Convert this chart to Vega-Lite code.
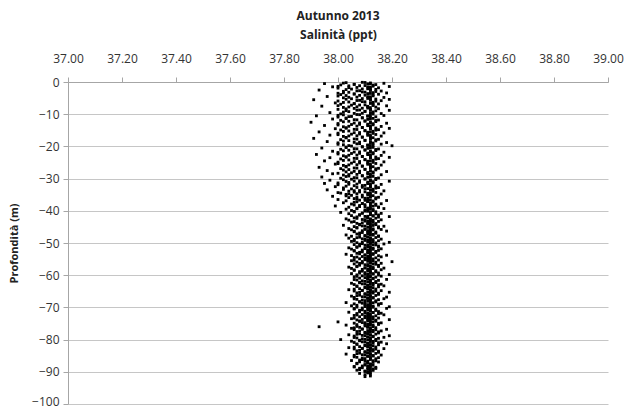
{
"$schema":"https://vega.github.io/schema/vega-lite/v6.json",
"autosize":"none",
"width":540,"height":322,
"padding":{"left":68,"top":82,"right":16,"bottom":5},
"background":"white",
"title":{"text":"Autunno 2013","font":"Open Sans","fontSize":12,"fontWeight":"bold","color":"#222","offset":5,"anchor":"middle"},
"config":{"view":{"stroke":null},"axis":{"labelFont":"Open Sans","titleFont":"Open Sans","labelColor":"#333","titleColor":"#222","domainColor":"#a6a6a6","tickColor":"#a6a6a6","gridColor":"#c6c6c6"}},
"data":{"values":[
{"s":37.95,"d":-0.5},{"s":38.01,"d":-0.9},{"s":38.03,"d":-0.2},{"s":38.06,"d":-0.7},{"s":38.09,"d":-0.1},{"s":38.11,"d":-0.6},{"s":38.12,"d":-0.3},{"s":38.14,"d":-0.8},{"s":38.17,"d":-0.4},
{"s":37.98,"d":-1.5},{"s":38.00,"d":-1.9},{"s":38.04,"d":-1.2},{"s":38.07,"d":-1.7},{"s":38.10,"d":-1.1},{"s":38.12,"d":-1.6},{"s":38.13,"d":-1.3},{"s":38.15,"d":-1.8},{"s":38.19,"d":-1.4},
{"s":37.93,"d":-2.5},{"s":38.02,"d":-2.9},{"s":38.05,"d":-2.2},{"s":38.08,"d":-2.7},{"s":38.11,"d":-2.1},{"s":38.12,"d":-2.6},{"s":38.14,"d":-2.3},{"s":38.16,"d":-2.8},
{"s":38.00,"d":-3.5},{"s":38.01,"d":-3.9},{"s":38.04,"d":-3.2},{"s":38.06,"d":-3.7},{"s":38.09,"d":-3.1},{"s":38.11,"d":-3.6},{"s":38.13,"d":-3.3},{"s":38.15,"d":-3.8},{"s":38.18,"d":-3.4},
{"s":37.96,"d":-4.5},{"s":38.02,"d":-4.9},{"s":38.03,"d":-4.2},{"s":38.07,"d":-4.7},{"s":38.10,"d":-4.1},{"s":38.12,"d":-4.6},{"s":38.13,"d":-4.3},{"s":38.17,"d":-4.8},
{"s":37.91,"d":-5.5},{"s":38.00,"d":-5.9},{"s":38.05,"d":-5.2},{"s":38.08,"d":-5.7},{"s":38.11,"d":-5.1},{"s":38.12,"d":-5.6},{"s":38.14,"d":-5.3},{"s":38.16,"d":-5.8},{"s":38.19,"d":-5.4},
{"s":37.99,"d":-6.5},{"s":38.01,"d":-6.9},{"s":38.04,"d":-6.2},{"s":38.06,"d":-6.7},{"s":38.09,"d":-6.1},{"s":38.12,"d":-6.6},{"s":38.13,"d":-6.3},{"s":38.15,"d":-6.8},
{"s":37.94,"d":-7.5},{"s":38.02,"d":-7.9},{"s":38.05,"d":-7.2},{"s":38.07,"d":-7.7},{"s":38.10,"d":-7.1},{"s":38.11,"d":-7.6},{"s":38.13,"d":-7.3},{"s":38.14,"d":-7.8},{"s":38.18,"d":-7.4},
{"s":38.00,"d":-8.5},{"s":38.03,"d":-8.9},{"s":38.06,"d":-8.2},{"s":38.08,"d":-8.7},{"s":38.11,"d":-8.1},{"s":38.12,"d":-8.6},{"s":38.15,"d":-8.3},{"s":38.19,"d":-8.8},
{"s":37.97,"d":-9.5},{"s":38.01,"d":-9.9},{"s":38.04,"d":-9.2},{"s":38.09,"d":-9.7},{"s":38.10,"d":-9.1},{"s":38.12,"d":-9.6},{"s":38.13,"d":-9.3},{"s":38.16,"d":-9.8},
{"s":37.92,"d":-10.5},{"s":38.00,"d":-10.9},{"s":38.02,"d":-10.2},{"s":38.05,"d":-10.7},{"s":38.07,"d":-10.1},{"s":38.11,"d":-10.6},{"s":38.12,"d":-10.3},{"s":38.14,"d":-10.8},{"s":38.17,"d":-10.4},
{"s":37.98,"d":-11.5},{"s":38.01,"d":-11.9},{"s":38.03,"d":-11.2},{"s":38.06,"d":-11.7},{"s":38.09,"d":-11.1},{"s":38.11,"d":-11.6},{"s":38.13,"d":-11.3},{"s":38.15,"d":-11.8},
{"s":37.90,"d":-12.5},{"s":38.00,"d":-12.9},{"s":38.04,"d":-12.2},{"s":38.08,"d":-12.7},{"s":38.10,"d":-12.1},{"s":38.12,"d":-12.6},{"s":38.14,"d":-12.3},{"s":38.18,"d":-12.8},
{"s":37.95,"d":-13.5},{"s":38.02,"d":-13.9},{"s":38.05,"d":-13.2},{"s":38.07,"d":-13.7},{"s":38.11,"d":-13.1},{"s":38.12,"d":-13.6},{"s":38.13,"d":-13.3},{"s":38.16,"d":-13.8},
{"s":37.99,"d":-14.5},{"s":38.01,"d":-14.9},{"s":38.03,"d":-14.2},{"s":38.06,"d":-14.7},{"s":38.09,"d":-14.1},{"s":38.12,"d":-14.6},{"s":38.14,"d":-14.3},{"s":38.15,"d":-14.8},{"s":38.19,"d":-14.4},
{"s":37.93,"d":-15.5},{"s":38.00,"d":-15.9},{"s":38.04,"d":-15.2},{"s":38.08,"d":-15.7},{"s":38.10,"d":-15.1},{"s":38.11,"d":-15.6},{"s":38.13,"d":-15.3},{"s":38.17,"d":-15.8},
{"s":37.97,"d":-16.5},{"s":38.02,"d":-16.9},{"s":38.05,"d":-16.2},{"s":38.07,"d":-16.7},{"s":38.11,"d":-16.1},{"s":38.12,"d":-16.6},{"s":38.14,"d":-16.3},{"s":38.16,"d":-16.8},
{"s":37.91,"d":-17.5},{"s":38.01,"d":-17.9},{"s":38.03,"d":-17.2},{"s":38.06,"d":-17.7},{"s":38.09,"d":-17.1},{"s":38.12,"d":-17.6},{"s":38.13,"d":-17.3},{"s":38.15,"d":-17.8},
{"s":37.96,"d":-18.5},{"s":38.00,"d":-18.9},{"s":38.04,"d":-18.2},{"s":38.08,"d":-18.7},{"s":38.10,"d":-18.1},{"s":38.12,"d":-18.6},{"s":38.14,"d":-18.3},{"s":38.18,"d":-18.8},
{"s":38.02,"d":-19.5},{"s":38.05,"d":-19.9},{"s":38.07,"d":-19.2},{"s":38.11,"d":-19.7},{"s":38.12,"d":-19.1},{"s":38.13,"d":-19.6},{"s":38.16,"d":-19.3},{"s":38.20,"d":-19.8},
{"s":37.94,"d":-20.5},{"s":38.01,"d":-20.9},{"s":38.03,"d":-20.2},{"s":38.06,"d":-20.7},{"s":38.09,"d":-20.1},{"s":38.11,"d":-20.6},{"s":38.13,"d":-20.3},{"s":38.15,"d":-20.8},
{"s":37.98,"d":-21.5},{"s":38.00,"d":-21.9},{"s":38.04,"d":-21.2},{"s":38.08,"d":-21.7},{"s":38.10,"d":-21.1},{"s":38.12,"d":-21.6},{"s":38.14,"d":-21.3},{"s":38.17,"d":-21.8},
{"s":37.92,"d":-22.5},{"s":38.02,"d":-22.9},{"s":38.05,"d":-22.2},{"s":38.07,"d":-22.7},{"s":38.11,"d":-22.1},{"s":38.12,"d":-22.6},{"s":38.13,"d":-22.3},{"s":38.16,"d":-22.8},
{"s":37.97,"d":-23.5},{"s":38.01,"d":-23.9},{"s":38.03,"d":-23.2},{"s":38.06,"d":-23.7},{"s":38.09,"d":-23.1},{"s":38.12,"d":-23.6},{"s":38.14,"d":-23.3},{"s":38.15,"d":-23.8},{"s":38.19,"d":-23.4},
{"s":37.95,"d":-24.5},{"s":38.00,"d":-24.9},{"s":38.04,"d":-24.2},{"s":38.08,"d":-24.7},{"s":38.10,"d":-24.1},{"s":38.11,"d":-24.6},{"s":38.13,"d":-24.3},{"s":38.17,"d":-24.8},
{"s":37.99,"d":-25.5},{"s":38.02,"d":-25.9},{"s":38.05,"d":-25.2},{"s":38.07,"d":-25.7},{"s":38.11,"d":-25.1},{"s":38.12,"d":-25.6},{"s":38.14,"d":-25.3},{"s":38.16,"d":-25.8},
{"s":37.93,"d":-26.5},{"s":38.01,"d":-26.9},{"s":38.03,"d":-26.2},{"s":38.06,"d":-26.7},{"s":38.09,"d":-26.1},{"s":38.12,"d":-26.6},{"s":38.13,"d":-26.3},{"s":38.15,"d":-26.8},
{"s":37.96,"d":-27.5},{"s":38.03,"d":-27.9},{"s":38.04,"d":-27.2},{"s":38.08,"d":-27.7},{"s":38.10,"d":-27.1},{"s":38.12,"d":-27.6},{"s":38.14,"d":-27.3},{"s":38.18,"d":-27.8},
{"s":37.98,"d":-28.5},{"s":38.02,"d":-28.9},{"s":38.05,"d":-28.2},{"s":38.07,"d":-28.7},{"s":38.11,"d":-28.1},{"s":38.12,"d":-28.6},{"s":38.13,"d":-28.3},{"s":38.16,"d":-28.8},
{"s":37.94,"d":-29.5},{"s":38.01,"d":-29.9},{"s":38.04,"d":-29.2},{"s":38.06,"d":-29.7},{"s":38.09,"d":-29.1},{"s":38.11,"d":-29.6},{"s":38.13,"d":-29.3},{"s":38.15,"d":-29.8},
{"s":37.97,"d":-30.5},{"s":38.03,"d":-30.9},{"s":38.05,"d":-30.2},{"s":38.08,"d":-30.7},{"s":38.10,"d":-30.1},{"s":38.12,"d":-30.6},{"s":38.14,"d":-30.3},{"s":38.19,"d":-30.8},
{"s":37.95,"d":-31.5},{"s":38.00,"d":-31.9},{"s":38.04,"d":-31.2},{"s":38.07,"d":-31.7},{"s":38.11,"d":-31.1},{"s":38.12,"d":-31.6},{"s":38.13,"d":-31.3},{"s":38.16,"d":-31.8},
{"s":37.99,"d":-32.5},{"s":38.02,"d":-32.9},{"s":38.06,"d":-32.2},{"s":38.09,"d":-32.7},{"s":38.10,"d":-32.1},{"s":38.12,"d":-32.6},{"s":38.14,"d":-32.3},{"s":38.15,"d":-32.8},
{"s":37.96,"d":-33.5},{"s":38.04,"d":-33.9},{"s":38.05,"d":-33.2},{"s":38.08,"d":-33.7},{"s":38.11,"d":-33.1},{"s":38.12,"d":-33.6},{"s":38.13,"d":-33.3},{"s":38.17,"d":-33.8},
{"s":38.01,"d":-34.5},{"s":38.03,"d":-34.9},{"s":38.06,"d":-34.2},{"s":38.07,"d":-34.7},{"s":38.10,"d":-34.1},{"s":38.12,"d":-34.6},{"s":38.14,"d":-34.3},{"s":38.16,"d":-34.8},
{"s":37.98,"d":-35.5},{"s":38.04,"d":-35.9},{"s":38.05,"d":-35.2},{"s":38.09,"d":-35.7},{"s":38.11,"d":-35.1},{"s":38.12,"d":-35.6},{"s":38.13,"d":-35.3},{"s":38.15,"d":-35.8},
{"s":38.00,"d":-36.5},{"s":38.03,"d":-36.9},{"s":38.06,"d":-36.2},{"s":38.08,"d":-36.7},{"s":38.10,"d":-36.1},{"s":38.11,"d":-36.6},{"s":38.14,"d":-36.3},{"s":38.18,"d":-36.8},
{"s":38.02,"d":-37.5},{"s":38.05,"d":-37.9},{"s":38.07,"d":-37.2},{"s":38.09,"d":-37.7},{"s":38.11,"d":-37.1},{"s":38.12,"d":-37.6},{"s":38.13,"d":-37.3},{"s":38.16,"d":-37.8},
{"s":37.99,"d":-38.5},{"s":38.04,"d":-38.9},{"s":38.06,"d":-38.2},{"s":38.08,"d":-38.7},{"s":38.10,"d":-38.1},{"s":38.12,"d":-38.6},{"s":38.14,"d":-38.3},{"s":38.15,"d":-38.8},
{"s":38.03,"d":-39.5},{"s":38.05,"d":-39.9},{"s":38.07,"d":-39.2},{"s":38.11,"d":-39.7},{"s":38.12,"d":-39.1},{"s":38.13,"d":-39.6},{"s":38.17,"d":-39.3},
{"s":38.01,"d":-40.5},{"s":38.04,"d":-40.9},{"s":38.06,"d":-40.2},{"s":38.09,"d":-40.7},{"s":38.10,"d":-40.1},{"s":38.12,"d":-40.6},{"s":38.14,"d":-40.3},{"s":38.16,"d":-40.8},
{"s":38.05,"d":-41.5},{"s":38.07,"d":-41.9},{"s":38.08,"d":-41.2},{"s":38.11,"d":-41.7},{"s":38.12,"d":-41.1},{"s":38.13,"d":-41.6},{"s":38.15,"d":-41.3},{"s":38.19,"d":-41.8},
{"s":38.03,"d":-42.5},{"s":38.04,"d":-42.9},{"s":38.06,"d":-42.2},{"s":38.09,"d":-42.7},{"s":38.11,"d":-42.1},{"s":38.12,"d":-42.6},{"s":38.14,"d":-42.3},{"s":38.16,"d":-42.8},
{"s":38.05,"d":-43.5},{"s":38.07,"d":-43.9},{"s":38.10,"d":-43.2},{"s":38.11,"d":-43.7},{"s":38.12,"d":-43.1},{"s":38.13,"d":-43.6},{"s":38.15,"d":-43.3},
{"s":38.02,"d":-44.5},{"s":38.06,"d":-44.9},{"s":38.08,"d":-44.2},{"s":38.09,"d":-44.7},{"s":38.11,"d":-44.1},{"s":38.12,"d":-44.6},{"s":38.14,"d":-44.3},{"s":38.17,"d":-44.8},
{"s":38.04,"d":-45.5},{"s":38.05,"d":-45.9},{"s":38.07,"d":-45.2},{"s":38.10,"d":-45.7},{"s":38.12,"d":-45.1},{"s":38.13,"d":-45.6},{"s":38.15,"d":-45.3},{"s":38.16,"d":-45.8},
{"s":38.06,"d":-46.5},{"s":38.08,"d":-46.9},{"s":38.09,"d":-46.2},{"s":38.11,"d":-46.7},{"s":38.12,"d":-46.1},{"s":38.14,"d":-46.6},{"s":38.18,"d":-46.3},
{"s":38.03,"d":-47.5},{"s":38.05,"d":-47.9},{"s":38.07,"d":-47.2},{"s":38.10,"d":-47.7},{"s":38.11,"d":-47.1},{"s":38.12,"d":-47.6},{"s":38.13,"d":-47.3},{"s":38.15,"d":-47.8},
{"s":38.04,"d":-48.5},{"s":38.06,"d":-48.9},{"s":38.08,"d":-48.2},{"s":38.09,"d":-48.7},{"s":38.11,"d":-48.1},{"s":38.12,"d":-48.6},{"s":38.14,"d":-48.3},{"s":38.16,"d":-48.8},
{"s":38.05,"d":-49.5},{"s":38.07,"d":-49.9},{"s":38.10,"d":-49.2},{"s":38.11,"d":-49.7},{"s":38.12,"d":-49.1},{"s":38.13,"d":-49.6},{"s":38.15,"d":-49.3},{"s":38.19,"d":-49.8},
{"s":38.06,"d":-50.5},{"s":38.08,"d":-50.9},{"s":38.09,"d":-50.2},{"s":38.11,"d":-50.7},{"s":38.12,"d":-50.1},{"s":38.14,"d":-50.6},{"s":38.17,"d":-50.3},
{"s":38.04,"d":-51.5},{"s":38.05,"d":-51.9},{"s":38.07,"d":-51.2},{"s":38.10,"d":-51.7},{"s":38.12,"d":-51.1},{"s":38.13,"d":-51.6},{"s":38.15,"d":-51.3},{"s":38.16,"d":-51.8},
{"s":38.06,"d":-52.5},{"s":38.08,"d":-52.9},{"s":38.09,"d":-52.2},{"s":38.11,"d":-52.7},{"s":38.12,"d":-52.1},{"s":38.14,"d":-52.6},{"s":38.15,"d":-52.3},
{"s":38.03,"d":-53.5},{"s":38.05,"d":-53.9},{"s":38.07,"d":-53.2},{"s":38.10,"d":-53.7},{"s":38.11,"d":-53.1},{"s":38.12,"d":-53.6},{"s":38.13,"d":-53.3},{"s":38.18,"d":-53.8},
{"s":38.06,"d":-54.5},{"s":38.08,"d":-54.9},{"s":38.09,"d":-54.2},{"s":38.11,"d":-54.7},{"s":38.12,"d":-54.1},{"s":38.14,"d":-54.6},{"s":38.16,"d":-54.3},
{"s":38.05,"d":-55.5},{"s":38.07,"d":-55.9},{"s":38.10,"d":-55.2},{"s":38.11,"d":-55.7},{"s":38.12,"d":-55.1},{"s":38.13,"d":-55.6},{"s":38.15,"d":-55.3},{"s":38.20,"d":-55.8},
{"s":38.06,"d":-56.5},{"s":38.08,"d":-56.9},{"s":38.09,"d":-56.2},{"s":38.11,"d":-56.7},{"s":38.12,"d":-56.1},{"s":38.14,"d":-56.6},{"s":38.16,"d":-56.3},
{"s":38.04,"d":-57.5},{"s":38.05,"d":-57.9},{"s":38.07,"d":-57.2},{"s":38.10,"d":-57.7},{"s":38.12,"d":-57.1},{"s":38.13,"d":-57.6},{"s":38.15,"d":-57.3},{"s":38.17,"d":-57.8},
{"s":38.06,"d":-58.5},{"s":38.08,"d":-58.9},{"s":38.09,"d":-58.2},{"s":38.11,"d":-58.7},{"s":38.12,"d":-58.1},{"s":38.14,"d":-58.6},{"s":38.16,"d":-58.3},
{"s":38.05,"d":-59.5},{"s":38.07,"d":-59.9},{"s":38.10,"d":-59.2},{"s":38.11,"d":-59.7},{"s":38.12,"d":-59.1},{"s":38.13,"d":-59.6},{"s":38.15,"d":-59.3},{"s":38.19,"d":-59.8},
{"s":38.06,"d":-60.5},{"s":38.08,"d":-60.9},{"s":38.09,"d":-60.2},{"s":38.11,"d":-60.7},{"s":38.12,"d":-60.1},{"s":38.14,"d":-60.6},{"s":38.16,"d":-60.3},
{"s":38.07,"d":-61.5},{"s":38.10,"d":-61.9},{"s":38.11,"d":-61.2},{"s":38.12,"d":-61.7},{"s":38.13,"d":-61.1},{"s":38.15,"d":-61.6},{"s":38.18,"d":-61.3},
{"s":38.05,"d":-62.5},{"s":38.06,"d":-62.9},{"s":38.08,"d":-62.2},{"s":38.09,"d":-62.7},{"s":38.11,"d":-62.1},{"s":38.12,"d":-62.6},{"s":38.14,"d":-62.3},{"s":38.16,"d":-62.8},
{"s":38.07,"d":-63.5},{"s":38.10,"d":-63.9},{"s":38.11,"d":-63.2},{"s":38.12,"d":-63.7},{"s":38.13,"d":-63.1},{"s":38.15,"d":-63.6},{"s":38.17,"d":-63.3},
{"s":38.04,"d":-64.5},{"s":38.06,"d":-64.9},{"s":38.08,"d":-64.2},{"s":38.09,"d":-64.7},{"s":38.11,"d":-64.1},{"s":38.12,"d":-64.6},{"s":38.14,"d":-64.3},{"s":38.16,"d":-64.8},
{"s":38.07,"d":-65.5},{"s":38.10,"d":-65.9},{"s":38.11,"d":-65.2},{"s":38.12,"d":-65.7},{"s":38.13,"d":-65.1},{"s":38.15,"d":-65.6},{"s":38.19,"d":-65.3},
{"s":38.05,"d":-66.5},{"s":38.06,"d":-66.9},{"s":38.08,"d":-66.2},{"s":38.09,"d":-66.7},{"s":38.11,"d":-66.1},{"s":38.12,"d":-66.6},{"s":38.14,"d":-66.3},{"s":38.18,"d":-66.8},
{"s":38.07,"d":-67.5},{"s":38.10,"d":-67.9},{"s":38.11,"d":-67.2},{"s":38.12,"d":-67.7},{"s":38.13,"d":-67.1},{"s":38.15,"d":-67.6},{"s":38.17,"d":-67.3},
{"s":38.03,"d":-68.5},{"s":38.06,"d":-68.9},{"s":38.08,"d":-68.2},{"s":38.09,"d":-68.7},{"s":38.11,"d":-68.1},{"s":38.12,"d":-68.6},{"s":38.14,"d":-68.3},{"s":38.16,"d":-68.8},
{"s":38.05,"d":-69.5},{"s":38.07,"d":-69.9},{"s":38.10,"d":-69.2},{"s":38.11,"d":-69.7},{"s":38.12,"d":-69.1},{"s":38.13,"d":-69.6},{"s":38.15,"d":-69.3},{"s":38.19,"d":-69.8},
{"s":38.06,"d":-70.5},{"s":38.08,"d":-70.9},{"s":38.09,"d":-70.2},{"s":38.11,"d":-70.7},{"s":38.12,"d":-70.1},{"s":38.14,"d":-70.6},{"s":38.18,"d":-70.3},
{"s":38.04,"d":-71.5},{"s":38.07,"d":-71.9},{"s":38.10,"d":-71.2},{"s":38.11,"d":-71.7},{"s":38.12,"d":-71.1},{"s":38.13,"d":-71.6},{"s":38.15,"d":-71.3},{"s":38.16,"d":-71.8},
{"s":38.06,"d":-72.5},{"s":38.08,"d":-72.9},{"s":38.09,"d":-72.2},{"s":38.11,"d":-72.7},{"s":38.12,"d":-72.1},{"s":38.14,"d":-72.6},{"s":38.17,"d":-72.3},
{"s":38.05,"d":-73.5},{"s":38.07,"d":-73.9},{"s":38.10,"d":-73.2},{"s":38.11,"d":-73.7},{"s":38.12,"d":-73.1},{"s":38.13,"d":-73.6},{"s":38.15,"d":-73.3},{"s":38.19,"d":-73.8},
{"s":38.00,"d":-74.5},{"s":38.06,"d":-74.9},{"s":38.08,"d":-74.2},{"s":38.09,"d":-74.7},{"s":38.11,"d":-74.1},{"s":38.12,"d":-74.6},{"s":38.14,"d":-74.3},{"s":38.16,"d":-74.8},
{"s":38.03,"d":-75.5},{"s":38.07,"d":-75.9},{"s":38.10,"d":-75.2},{"s":38.11,"d":-75.7},{"s":38.12,"d":-75.1},{"s":38.13,"d":-75.6},{"s":38.15,"d":-75.3},
{"s":37.93,"d":-76.0},
{"s":38.05,"d":-76.5},{"s":38.06,"d":-76.9},{"s":38.08,"d":-76.2},{"s":38.09,"d":-76.7},{"s":38.11,"d":-76.1},{"s":38.12,"d":-76.6},{"s":38.14,"d":-76.3},{"s":38.18,"d":-76.8},
{"s":38.07,"d":-77.5},{"s":38.10,"d":-77.9},{"s":38.11,"d":-77.2},{"s":38.12,"d":-77.7},{"s":38.13,"d":-77.1},{"s":38.15,"d":-77.6},{"s":38.16,"d":-77.3},
{"s":38.04,"d":-78.5},{"s":38.06,"d":-78.9},{"s":38.08,"d":-78.2},{"s":38.09,"d":-78.7},{"s":38.11,"d":-78.1},{"s":38.12,"d":-78.6},{"s":38.14,"d":-78.3},{"s":38.19,"d":-78.8},
{"s":38.07,"d":-79.5},{"s":38.10,"d":-79.9},{"s":38.11,"d":-79.2},{"s":38.12,"d":-79.7},{"s":38.13,"d":-79.1},{"s":38.15,"d":-79.6},{"s":38.17,"d":-79.3},
{"s":38.01,"d":-80.0},
{"s":38.05,"d":-80.5},{"s":38.06,"d":-80.9},{"s":38.08,"d":-80.2},{"s":38.09,"d":-80.7},{"s":38.11,"d":-80.1},{"s":38.12,"d":-80.6},{"s":38.14,"d":-80.3},{"s":38.16,"d":-80.8},
{"s":38.07,"d":-81.5},{"s":38.10,"d":-81.9},{"s":38.11,"d":-81.2},{"s":38.12,"d":-81.7},{"s":38.13,"d":-81.1},{"s":38.15,"d":-81.6},{"s":38.18,"d":-81.3},
{"s":38.04,"d":-82.5},{"s":38.06,"d":-82.9},{"s":38.08,"d":-82.2},{"s":38.09,"d":-82.7},{"s":38.11,"d":-82.1},{"s":38.12,"d":-82.6},{"s":38.14,"d":-82.3},{"s":38.17,"d":-82.8},
{"s":38.07,"d":-83.5},{"s":38.10,"d":-83.9},{"s":38.11,"d":-83.2},{"s":38.12,"d":-83.7},{"s":38.13,"d":-83.1},{"s":38.15,"d":-83.6},
{"s":38.03,"d":-84.5},{"s":38.06,"d":-84.9},{"s":38.08,"d":-84.2},{"s":38.09,"d":-84.7},{"s":38.11,"d":-84.1},{"s":38.12,"d":-84.6},{"s":38.14,"d":-84.3},{"s":38.16,"d":-84.8},
{"s":38.07,"d":-85.5},{"s":38.10,"d":-85.9},{"s":38.11,"d":-85.2},{"s":38.12,"d":-85.7},{"s":38.13,"d":-85.1},{"s":38.15,"d":-85.6},
{"s":38.05,"d":-86.5},{"s":38.08,"d":-86.9},{"s":38.09,"d":-86.2},{"s":38.11,"d":-86.7},{"s":38.12,"d":-86.1},{"s":38.14,"d":-86.6},
{"s":38.07,"d":-87.5},{"s":38.10,"d":-87.9},{"s":38.11,"d":-87.2},{"s":38.12,"d":-87.7},{"s":38.13,"d":-87.1},
{"s":38.06,"d":-88.5},{"s":38.08,"d":-88.9},{"s":38.09,"d":-88.2},{"s":38.11,"d":-88.7},{"s":38.12,"d":-88.1},{"s":38.14,"d":-88.6},
{"s":38.07,"d":-89.5},{"s":38.10,"d":-89.9},{"s":38.11,"d":-89.2},{"s":38.12,"d":-89.7},{"s":38.13,"d":-89.1},
{"s":38.08,"d":-90.5},{"s":38.10,"d":-90.9},{"s":38.12,"d":-90.2},
{"s":38.10,"d":-91.5},{"s":38.12,"d":-91.3},
{"s":38.02,"d":-0.35},{"s":38.06,"d":-0.75},{"s":38.10,"d":-0.15},{"s":38.12,"d":-0.55},{"s":38.13,"d":-0.95},
{"s":38.00,"d":-1.35},{"s":38.04,"d":-1.75},{"s":38.08,"d":-1.15},{"s":38.11,"d":-1.55},{"s":38.12,"d":-1.95},
{"s":38.03,"d":-2.35},{"s":38.07,"d":-2.75},{"s":38.09,"d":-2.15},{"s":38.12,"d":-2.55},{"s":38.14,"d":-2.95},
{"s":38.02,"d":-3.35},{"s":38.06,"d":-3.75},{"s":38.10,"d":-3.15},{"s":38.12,"d":-3.55},{"s":38.13,"d":-3.95},
{"s":38.00,"d":-4.35},{"s":38.04,"d":-4.75},{"s":38.08,"d":-4.15},{"s":38.11,"d":-4.55},{"s":38.12,"d":-4.95},
{"s":38.03,"d":-5.35},{"s":38.07,"d":-5.75},{"s":38.09,"d":-5.15},{"s":38.12,"d":-5.55},{"s":38.14,"d":-5.95},
{"s":38.02,"d":-6.35},{"s":38.06,"d":-6.75},{"s":38.10,"d":-6.15},{"s":38.12,"d":-6.55},{"s":38.13,"d":-6.95},
{"s":38.00,"d":-7.35},{"s":38.04,"d":-7.75},{"s":38.08,"d":-7.15},{"s":38.11,"d":-7.55},{"s":38.12,"d":-7.95},
{"s":38.03,"d":-8.35},{"s":38.07,"d":-8.75},{"s":38.09,"d":-8.15},{"s":38.12,"d":-8.55},{"s":38.14,"d":-8.95},
{"s":38.02,"d":-9.35},{"s":38.06,"d":-9.75},{"s":38.10,"d":-9.15},{"s":38.12,"d":-9.55},{"s":38.13,"d":-9.95},
{"s":38.00,"d":-10.35},{"s":38.04,"d":-10.75},{"s":38.08,"d":-10.15},{"s":38.11,"d":-10.55},{"s":38.12,"d":-10.95},
{"s":38.03,"d":-11.35},{"s":38.07,"d":-11.75},{"s":38.09,"d":-11.15},{"s":38.12,"d":-11.55},{"s":38.14,"d":-11.95},
{"s":38.02,"d":-12.35},{"s":38.06,"d":-12.75},{"s":38.10,"d":-12.15},{"s":38.12,"d":-12.55},{"s":38.13,"d":-12.95},
{"s":38.00,"d":-13.35},{"s":38.04,"d":-13.75},{"s":38.08,"d":-13.15},{"s":38.11,"d":-13.55},{"s":38.12,"d":-13.95},
{"s":38.03,"d":-14.35},{"s":38.07,"d":-14.75},{"s":38.09,"d":-14.15},{"s":38.12,"d":-14.55},{"s":38.14,"d":-14.95},
{"s":38.02,"d":-15.35},{"s":38.06,"d":-15.75},{"s":38.10,"d":-15.15},{"s":38.12,"d":-15.55},{"s":38.13,"d":-15.95},
{"s":38.00,"d":-16.35},{"s":38.04,"d":-16.75},{"s":38.08,"d":-16.15},{"s":38.11,"d":-16.55},{"s":38.12,"d":-16.95},
{"s":38.03,"d":-17.35},{"s":38.07,"d":-17.75},{"s":38.09,"d":-17.15},{"s":38.12,"d":-17.55},{"s":38.14,"d":-17.95},
{"s":38.02,"d":-18.35},{"s":38.06,"d":-18.75},{"s":38.10,"d":-18.15},{"s":38.12,"d":-18.55},{"s":38.13,"d":-18.95},
{"s":38.00,"d":-19.35},{"s":38.04,"d":-19.75},{"s":38.08,"d":-19.15},{"s":38.11,"d":-19.55},{"s":38.12,"d":-19.95},
{"s":38.03,"d":-20.35},{"s":38.07,"d":-20.75},{"s":38.09,"d":-20.15},{"s":38.12,"d":-20.55},{"s":38.14,"d":-20.95},
{"s":38.02,"d":-21.35},{"s":38.06,"d":-21.75},{"s":38.10,"d":-21.15},{"s":38.12,"d":-21.55},{"s":38.13,"d":-21.95},
{"s":38.00,"d":-22.35},{"s":38.04,"d":-22.75},{"s":38.08,"d":-22.15},{"s":38.11,"d":-22.55},{"s":38.12,"d":-22.95},
{"s":38.03,"d":-23.35},{"s":38.07,"d":-23.75},{"s":38.09,"d":-23.15},{"s":38.12,"d":-23.55},{"s":38.14,"d":-23.95},
{"s":38.02,"d":-24.35},{"s":38.06,"d":-24.75},{"s":38.10,"d":-24.15},{"s":38.12,"d":-24.55},{"s":38.13,"d":-24.95},
{"s":38.00,"d":-25.35},{"s":38.04,"d":-25.75},{"s":38.08,"d":-25.15},{"s":38.11,"d":-25.55},{"s":38.12,"d":-25.95},
{"s":38.03,"d":-26.35},{"s":38.07,"d":-26.75},{"s":38.09,"d":-26.15},{"s":38.12,"d":-26.55},{"s":38.14,"d":-26.95},
{"s":38.02,"d":-27.35},{"s":38.06,"d":-27.75},{"s":38.10,"d":-27.15},{"s":38.12,"d":-27.55},{"s":38.13,"d":-27.95},
{"s":38.00,"d":-28.35},{"s":38.04,"d":-28.75},{"s":38.08,"d":-28.15},{"s":38.11,"d":-28.55},{"s":38.12,"d":-28.95},
{"s":38.03,"d":-29.35},{"s":38.07,"d":-29.75},{"s":38.09,"d":-29.15},{"s":38.12,"d":-29.55},{"s":38.14,"d":-29.95},
{"s":38.02,"d":-30.35},{"s":38.06,"d":-30.75},{"s":38.10,"d":-30.15},{"s":38.12,"d":-30.55},{"s":38.13,"d":-30.95},
{"s":38.00,"d":-31.35},{"s":38.04,"d":-31.75},{"s":38.08,"d":-31.15},{"s":38.11,"d":-31.55},{"s":38.12,"d":-31.95},
{"s":38.03,"d":-32.35},{"s":38.07,"d":-32.75},{"s":38.09,"d":-32.15},{"s":38.12,"d":-32.55},{"s":38.14,"d":-32.95},
{"s":38.02,"d":-33.35},{"s":38.06,"d":-33.75},{"s":38.10,"d":-33.15},{"s":38.12,"d":-33.55},{"s":38.13,"d":-33.95},
{"s":38.00,"d":-34.35},{"s":38.04,"d":-34.75},{"s":38.08,"d":-34.15},{"s":38.11,"d":-34.55},{"s":38.12,"d":-34.95},
{"s":38.03,"d":-35.35},{"s":38.07,"d":-35.75},{"s":38.09,"d":-35.15},{"s":38.12,"d":-35.55},{"s":38.14,"d":-35.95},
{"s":38.07,"d":-36.35},{"s":38.10,"d":-36.75},{"s":38.11,"d":-36.15},{"s":38.12,"d":-36.55},{"s":38.13,"d":-36.95},
{"s":38.06,"d":-37.35},{"s":38.09,"d":-37.75},{"s":38.11,"d":-37.15},{"s":38.12,"d":-37.55},{"s":38.14,"d":-37.95},
{"s":38.08,"d":-38.35},{"s":38.10,"d":-38.75},{"s":38.12,"d":-38.15},{"s":38.13,"d":-38.55},{"s":38.15,"d":-38.95},
{"s":38.07,"d":-39.35},{"s":38.10,"d":-39.75},{"s":38.11,"d":-39.15},{"s":38.12,"d":-39.55},{"s":38.13,"d":-39.95},
{"s":38.06,"d":-40.35},{"s":38.09,"d":-40.75},{"s":38.11,"d":-40.15},{"s":38.12,"d":-40.55},{"s":38.14,"d":-40.95},
{"s":38.08,"d":-41.35},{"s":38.10,"d":-41.75},{"s":38.12,"d":-41.15},{"s":38.13,"d":-41.55},{"s":38.15,"d":-41.95},
{"s":38.07,"d":-42.35},{"s":38.10,"d":-42.75},{"s":38.11,"d":-42.15},{"s":38.12,"d":-42.55},{"s":38.13,"d":-42.95},
{"s":38.06,"d":-43.35},{"s":38.09,"d":-43.75},{"s":38.11,"d":-43.15},{"s":38.12,"d":-43.55},{"s":38.14,"d":-43.95},
{"s":38.08,"d":-44.35},{"s":38.10,"d":-44.75},{"s":38.12,"d":-44.15},{"s":38.13,"d":-44.55},{"s":38.15,"d":-44.95},
{"s":38.07,"d":-45.35},{"s":38.10,"d":-45.75},{"s":38.11,"d":-45.15},{"s":38.12,"d":-45.55},{"s":38.13,"d":-45.95},
{"s":38.06,"d":-46.35},{"s":38.09,"d":-46.75},{"s":38.11,"d":-46.15},{"s":38.12,"d":-46.55},{"s":38.14,"d":-46.95},
{"s":38.08,"d":-47.35},{"s":38.10,"d":-47.75},{"s":38.12,"d":-47.15},{"s":38.13,"d":-47.55},{"s":38.15,"d":-47.95},
{"s":38.07,"d":-48.35},{"s":38.10,"d":-48.75},{"s":38.11,"d":-48.15},{"s":38.12,"d":-48.55},{"s":38.13,"d":-48.95},
{"s":38.06,"d":-49.35},{"s":38.09,"d":-49.75},{"s":38.11,"d":-49.15},{"s":38.12,"d":-49.55},{"s":38.14,"d":-49.95},
{"s":38.08,"d":-50.35},{"s":38.10,"d":-50.75},{"s":38.12,"d":-50.15},{"s":38.13,"d":-50.55},{"s":38.15,"d":-50.95},
{"s":38.07,"d":-51.35},{"s":38.10,"d":-51.75},{"s":38.11,"d":-51.15},{"s":38.12,"d":-51.55},{"s":38.13,"d":-51.95},
{"s":38.06,"d":-52.35},{"s":38.09,"d":-52.75},{"s":38.11,"d":-52.15},{"s":38.12,"d":-52.55},{"s":38.14,"d":-52.95},
{"s":38.08,"d":-53.35},{"s":38.10,"d":-53.75},{"s":38.12,"d":-53.15},{"s":38.13,"d":-53.55},{"s":38.15,"d":-53.95},
{"s":38.07,"d":-54.35},{"s":38.10,"d":-54.75},{"s":38.11,"d":-54.15},{"s":38.12,"d":-54.55},{"s":38.13,"d":-54.95},
{"s":38.06,"d":-55.35},{"s":38.09,"d":-55.75},{"s":38.11,"d":-55.15},{"s":38.12,"d":-55.55},{"s":38.14,"d":-55.95},
{"s":38.08,"d":-56.35},{"s":38.10,"d":-56.75},{"s":38.12,"d":-56.15},{"s":38.13,"d":-56.55},{"s":38.15,"d":-56.95},
{"s":38.07,"d":-57.35},{"s":38.10,"d":-57.75},{"s":38.11,"d":-57.15},{"s":38.12,"d":-57.55},{"s":38.13,"d":-57.95},
{"s":38.06,"d":-58.35},{"s":38.09,"d":-58.75},{"s":38.11,"d":-58.15},{"s":38.12,"d":-58.55},{"s":38.14,"d":-58.95},
{"s":38.08,"d":-59.35},{"s":38.10,"d":-59.75},{"s":38.12,"d":-59.15},{"s":38.13,"d":-59.55},{"s":38.15,"d":-59.95},
{"s":38.07,"d":-60.35},{"s":38.10,"d":-60.75},{"s":38.11,"d":-60.15},{"s":38.12,"d":-60.55},{"s":38.13,"d":-60.95},
{"s":38.06,"d":-61.35},{"s":38.09,"d":-61.75},{"s":38.11,"d":-61.15},{"s":38.12,"d":-61.55},{"s":38.14,"d":-61.95},
{"s":38.08,"d":-62.35},{"s":38.10,"d":-62.75},{"s":38.12,"d":-62.15},{"s":38.13,"d":-62.55},{"s":38.15,"d":-62.95},
{"s":38.07,"d":-63.35},{"s":38.10,"d":-63.75},{"s":38.11,"d":-63.15},{"s":38.12,"d":-63.55},{"s":38.13,"d":-63.95},
{"s":38.06,"d":-64.35},{"s":38.09,"d":-64.75},{"s":38.11,"d":-64.15},{"s":38.12,"d":-64.55},{"s":38.14,"d":-64.95},
{"s":38.08,"d":-65.35},{"s":38.10,"d":-65.75},{"s":38.12,"d":-65.15},{"s":38.13,"d":-65.55},{"s":38.15,"d":-65.95},
{"s":38.07,"d":-66.35},{"s":38.10,"d":-66.75},{"s":38.11,"d":-66.15},{"s":38.12,"d":-66.55},{"s":38.13,"d":-66.95},
{"s":38.06,"d":-67.35},{"s":38.09,"d":-67.75},{"s":38.11,"d":-67.15},{"s":38.12,"d":-67.55},{"s":38.14,"d":-67.95},
{"s":38.08,"d":-68.35},{"s":38.10,"d":-68.75},{"s":38.12,"d":-68.15},{"s":38.13,"d":-68.55},{"s":38.15,"d":-68.95},
{"s":38.07,"d":-69.35},{"s":38.10,"d":-69.75},{"s":38.11,"d":-69.15},{"s":38.12,"d":-69.55},{"s":38.13,"d":-69.95},
{"s":38.06,"d":-70.35},{"s":38.09,"d":-70.75},{"s":38.11,"d":-70.15},{"s":38.12,"d":-70.55},{"s":38.14,"d":-70.95},
{"s":38.08,"d":-71.35},{"s":38.10,"d":-71.75},{"s":38.12,"d":-71.15},{"s":38.13,"d":-71.55},{"s":38.15,"d":-71.95},
{"s":38.07,"d":-72.35},{"s":38.10,"d":-72.75},{"s":38.11,"d":-72.15},{"s":38.12,"d":-72.55},{"s":38.13,"d":-72.95},
{"s":38.06,"d":-73.35},{"s":38.09,"d":-73.75},{"s":38.11,"d":-73.15},{"s":38.12,"d":-73.55},{"s":38.14,"d":-73.95},
{"s":38.08,"d":-74.35},{"s":38.10,"d":-74.75},{"s":38.12,"d":-74.15},{"s":38.13,"d":-74.55},{"s":38.15,"d":-74.95},
{"s":38.07,"d":-75.35},{"s":38.10,"d":-75.75},{"s":38.11,"d":-75.15},{"s":38.12,"d":-75.55},{"s":38.13,"d":-75.95},
{"s":38.06,"d":-76.35},{"s":38.09,"d":-76.75},{"s":38.11,"d":-76.15},{"s":38.12,"d":-76.55},{"s":38.14,"d":-76.95},
{"s":38.08,"d":-77.35},{"s":38.10,"d":-77.75},{"s":38.12,"d":-77.15},{"s":38.13,"d":-77.55},{"s":38.15,"d":-77.95},
{"s":38.07,"d":-78.35},{"s":38.10,"d":-78.75},{"s":38.11,"d":-78.15},{"s":38.12,"d":-78.55},{"s":38.13,"d":-78.95},
{"s":38.06,"d":-79.35},{"s":38.09,"d":-79.75},{"s":38.11,"d":-79.15},{"s":38.12,"d":-79.55},{"s":38.14,"d":-79.95},
{"s":38.08,"d":-80.35},{"s":38.10,"d":-80.75},{"s":38.12,"d":-80.15},{"s":38.13,"d":-80.55},{"s":38.15,"d":-80.95},
{"s":38.07,"d":-81.35},{"s":38.10,"d":-81.75},{"s":38.11,"d":-81.15},{"s":38.12,"d":-81.55},{"s":38.13,"d":-81.95},
{"s":38.06,"d":-82.35},{"s":38.09,"d":-82.75},{"s":38.11,"d":-82.15},{"s":38.12,"d":-82.55},{"s":38.14,"d":-82.95},
{"s":38.08,"d":-83.35},{"s":38.10,"d":-83.75},{"s":38.12,"d":-83.15},{"s":38.13,"d":-83.55},{"s":38.15,"d":-83.95},
{"s":38.07,"d":-84.35},{"s":38.10,"d":-84.75},{"s":38.11,"d":-84.15},{"s":38.12,"d":-84.55},{"s":38.13,"d":-84.95},
{"s":38.06,"d":-85.35},{"s":38.09,"d":-85.75},{"s":38.11,"d":-85.15},{"s":38.12,"d":-85.55},{"s":38.14,"d":-85.95},
{"s":38.08,"d":-86.35},{"s":38.10,"d":-86.75},{"s":38.12,"d":-86.15},{"s":38.13,"d":-86.55},{"s":38.15,"d":-86.95},
{"s":38.07,"d":-87.35},{"s":38.10,"d":-87.75},{"s":38.11,"d":-87.15},{"s":38.12,"d":-87.55},{"s":38.13,"d":-87.95},
{"s":38.06,"d":-88.35},{"s":38.09,"d":-88.75},{"s":38.11,"d":-88.15},{"s":38.12,"d":-88.55},{"s":38.14,"d":-88.95},
{"s":38.08,"d":-89.35},{"s":38.10,"d":-89.75},{"s":38.12,"d":-89.15},{"s":38.13,"d":-89.55},{"s":38.11,"d":-89.95},
{"s":38.11,"d":-90.35},{"s":38.12,"d":-90.75}
]},
"mark":{"type":"square","size":8,"color":"#000","opacity":1,"filled":true},
"encoding":{
"x":{"field":"s","type":"quantitative","scale":{"domain":[37,39],"nice":false,"zero":false},
"axis":{"orient":"top","title":"Salinità (ppt)","titleFontSize":12,"titleFontWeight":"bold","titlePadding":11,"values":[37,37.2,37.4,37.6,37.8,38,38.2,38.4,38.6,38.8,39],"format":".2f","labelFontSize":12,"grid":false,"tickSize":5,"labelPadding":12,"labelFlush":false}},
"y":{"field":"d","type":"quantitative","scale":{"domain":[-100,0],"nice":false},
"axis":{"title":"Profondità (m)","titleFontSize":11,"titleFontWeight":"bold","titlePadding":12,"values":[0,-10,-20,-30,-40,-50,-60,-70,-80,-90,-100],"labelFontSize":12,"grid":true,"tickSize":5,"labelPadding":4,"labelOffset":{"expr":"datum.value == -100 ? -3 : 0"}}}
}
}
